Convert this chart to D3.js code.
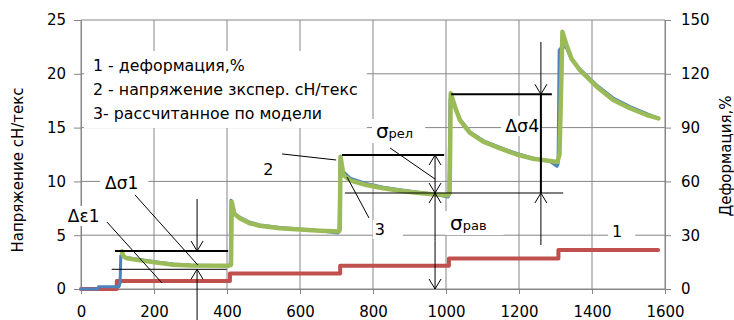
<!DOCTYPE html>
<html>
<head>
<meta charset="utf-8">
<script src="https://cdn.jsdelivr.net/npm/d3@7"></script>
<style>
  body { margin: 0; background: #fff; }
  text { font-family: "DejaVu Sans", sans-serif; fill: #000; }
</style>
</head>
<body>
<svg id="chart" width="734" height="320"></svg>
<script>
// ---- data (time, s) ----
var xTicks = [0, 200, 400, 600, 800, 1000, 1200, 1400, 1600];
var yLeftTicks = [0, 5, 10, 15, 20, 25];
var yRightTicks = [0, 30, 60, 90, 120, 150];

// 1 - deformation, % (right axis), step curve
var deformation = [[0, 0], [98, 4.4], [408, 8.6], [710, 13], [1008, 17], [1308, 21.8], [1581, 21.8]];

// 2 - experimental stress, cN/tex
var experimental = [[0, 0], [46, 0], [48, 0.2], [104, 0.2], [107, 0.5], [109, 3.1], [118, 2.95], [162, 2.75],
  [207, 2.52], [253, 2.32], [299, 2.22], [405, 2.15], [409, 2.3], [411, 8.25], [418, 7.1], [436, 6.65],
  [463, 6.2], [490, 5.95], [545, 5.72], [600, 5.58], [655, 5.42], [703, 5.2], [707, 5.3], [710, 11.9],
  [716, 11.0], [737, 10.3], [782, 9.8], [828, 9.45], [874, 9.22], [919, 9.02], [970, 8.8], [1006, 8.55],
  [1008, 8.7], [1011, 17.6], [1025, 16.9], [1038, 15.8], [1066, 14.6], [1102, 13.8], [1148, 13.15],
  [1194, 12.6], [1239, 12.15], [1285, 11.85], [1304, 11.4], [1307, 11.6], [1310, 22.2], [1320, 22.6],
  [1330, 22.4], [1344, 21.3], [1367, 20.45], [1413, 18.95], [1458, 17.75], [1504, 16.95], [1550, 16.3],
  [1582, 15.85]];

// 3 - model stress, cN/tex
var model = [[112, 3.5], [116, 3.05], [126, 2.85], [162, 2.66], [207, 2.45], [253, 2.26], [299, 2.19],
  [405, 2.17], [411, 2.25], [413, 8.1], [420, 7.0], [436, 6.55], [463, 6.1], [490, 5.88], [545, 5.64],
  [600, 5.52], [655, 5.42], [706, 5.35], [709, 5.5], [711, 12.3], [719, 10.6], [737, 10.1], [782, 9.66],
  [828, 9.36], [874, 9.14], [919, 8.95], [970, 8.78], [1005, 8.72], [1010, 8.9], [1013, 18.2], [1025, 16.9],
  [1038, 15.7], [1066, 14.5], [1102, 13.7], [1148, 13.07], [1194, 12.5], [1239, 12.1], [1285, 11.9],
  [1305, 11.8], [1311, 12.5], [1319, 23.9], [1330, 22.7], [1344, 21.4], [1367, 20.35], [1413, 18.8],
  [1458, 17.57], [1504, 16.8], [1550, 16.17], [1582, 15.85]];

var legendLines = ["1 - деформация,%", "2 - напряжение зкспер. сН/текс", "3- рассчитанное по модели"];

// annotation geometry, in axis units (time, cN/tex)
var hLines = [  // [y, x1, x2, width]
  [3.53, 93, 403, 2], [1.83, 84, 399, 1],
  [12.45, 715, 995, 2], [8.92, 723, 1321, 1.2],
  [18.1, 1014, 1290, 2]];
var arrows = [  // [x, from, to]  head at "to"
  [318, 8.36, 3.53], [318, -2.9, 1.83],
  [970, 10.7, 12.45], [970, 10.7, 8.92], [970, 4.5, 8.92], [970, 4.5, 0],
  [1260, 22.96, 18.1], [1260, 4.09, 8.92]];
var thickSegs = [[1260, 18.1, 8.92]];
var leaders = [
  [148, 8.74, 320, 2.23], [71, 6.23, 222, 0.56],
  [847, 13.1, 970, 10.22], [551, 12.55, 699, 11.99], [729, 10.4, 789, 6.6]];
var labels = [  // [parts, x, y, pad l,t,r,b]
  [[["Δσ1", 17]], 66, 9.29, [5, 0, 10, 0]],
  [[["Δε1", 17]], -36, 6.23, [3, 0, 3, 0]],
  [[["2", 16]], 499, 10.6, [3, 0, 18, 0]],
  [[["3", 16]], 805, 5.02, [2, 0, 18, 0]],
  [[["1", 16]], 1455, 4.83, [4, 0, 13, 0]],
  [[["σ", 20], ["рел", 13]], 808, 14.03, [4, 0, 12, 0]],
  [[["σ", 20], ["рав", 13]], 1011, 5.48, [5, 0, 17, 0]],
  [[["Δσ4", 17.5]], 1162, 14.6, [4, 0, 2, 0]]];

// ---- layout ----
var W = 734, H = 320;
var margin = {top: 20, right: 69, bottom: 31, left: 81};

var svg = d3.select("#chart");
var x = d3.scaleLinear().domain([0, 1600]).range([margin.left, W - margin.right]);
var yL = d3.scaleLinear().domain([0, 25]).range([H - margin.bottom, margin.top]);
var yR = d3.scaleLinear().domain([0, 150]).range([H - margin.bottom, margin.top]);

var GRID = "#868686";

// grid
var grid = svg.append("g").attr("stroke", GRID).attr("stroke-width", 1);
grid.selectAll(".gv").data(xTicks).join("line")
    .attr("x1", function (d) { return x(d); }).attr("x2", function (d) { return x(d); })
    .attr("y1", yL(0)).attr("y2", yL(25));
grid.selectAll(".gh").data(yLeftTicks).join("line")
    .attr("x1", x(0)).attr("x2", x(1600))
    .attr("y1", function (d) { return yL(d); }).attr("y2", function (d) { return yL(d); });

// axes
function styleAxis(g) {
    g.select(".domain").attr("stroke", GRID);
    g.selectAll(".tick line").attr("stroke", GRID);
    g.selectAll(".tick text").style("font-size", "15px").attr("fill", "#000");
}
svg.append("g").attr("transform", "translate(" + margin.left + ",0)")
    .call(d3.axisLeft(yL).tickValues(yLeftTicks).tickSize(7).tickPadding(8).tickSizeOuter(0))
    .call(styleAxis);
svg.append("g").attr("transform", "translate(" + (W - margin.right) + ",0)")
    .call(d3.axisRight(yR).tickValues(yRightTicks).tickSize(6).tickPadding(10).tickSizeOuter(0))
    .call(styleAxis);
svg.append("g").attr("transform", "translate(0," + (H - margin.bottom) + ")")
    .call(d3.axisBottom(x).tickValues(xTicks).tickFormat(d3.format("d"))
        .tickSize(5).tickPadding(12).tickSizeOuter(0))
    .call(styleAxis);

svg.append("text")
    .attr("transform", "translate(23,170) rotate(-90)")
    .attr("text-anchor", "middle").style("font-size", "15px")
    .text("Напряжение сН/текс");
svg.append("text")
    .attr("transform", "translate(731,156) rotate(-90)")
    .attr("text-anchor", "middle").style("font-size", "15px")
    .text("Деформация,%");

var boxes = svg.append("g");
var series = svg.append("g").attr("fill", "none").attr("stroke-linejoin", "round").attr("stroke-linecap", "round");
var anno = svg.append("g").attr("stroke", "#000").attr("fill", "none");
var texts = svg.append("g");

// legend box
var leg = texts.append("g");
legendLines.forEach(function (s, i) {
    leg.append("text").attr("x", x(33)).attr("y", yL(20.26 - i * 2.23))
        .style("font-size", "15.8px").text(s);
});
var lb = leg.node().getBBox();
boxes.append("rect").attr("x", lb.x - 9).attr("y", lb.y - 5)
    .attr("width", lb.width + 18).attr("height", lb.height + 10).attr("fill", "#fff");

// labels with white boxes
labels.forEach(function (l) {
    var t = texts.append("text").attr("x", x(l[1])).attr("y", yL(l[2]));
    l[0].forEach(function (p) {
        t.append("tspan").style("font-size", p[1] + "px").text(p[0]);
    });
    var b = t.node().getBBox(), pad = l[3];
    boxes.append("rect").attr("x", b.x - pad[0]).attr("y", b.y - pad[1])
        .attr("width", b.width + pad[0] + pad[2]).attr("height", b.height + pad[1] + pad[3])
        .attr("fill", "#fff");
});

// series
series.append("path").datum(deformation)
    .attr("stroke", "#C0504D").attr("stroke-width", 4)
    .attr("d", d3.line().curve(d3.curveStepAfter)
        .x(function (d) { return x(d[0]); }).y(function (d) { return yR(d[1]); }));
var stressLine = d3.line().x(function (d) { return x(d[0]); }).y(function (d) { return yL(d[1]); });
series.append("path").datum(experimental)
    .attr("stroke", "#4F81BD").attr("stroke-width", 3).attr("d", stressLine);
series.append("path").datum(model)
    .attr("stroke", "#9BBB59").attr("stroke-width", 4.5).attr("d", stressLine);

// annotations
hLines.forEach(function (h) {
    anno.append("line").attr("x1", x(h[1])).attr("x2", x(h[2]))
        .attr("y1", yL(h[0])).attr("y2", yL(h[0])).attr("stroke-width", h[3]);
});
thickSegs.forEach(function (s) {
    anno.append("line").attr("x1", x(s[0])).attr("x2", x(s[0]))
        .attr("y1", yL(s[1])).attr("y2", yL(s[2])).attr("stroke-width", 2);
});
arrows.forEach(function (a) {
    var X = x(a[0]), Y0 = yL(a[1]), Y1 = yL(a[2]);
    var dir = Y1 > Y0 ? 1 : -1;
    anno.append("line").attr("x1", X).attr("x2", X).attr("y1", Y0).attr("y2", Y1).attr("stroke-width", 1);
    anno.append("path").attr("stroke-width", 1)
        .attr("d", "M" + (X - 6) + "," + (Y1 - dir * 10) + "L" + X + "," + Y1 + "L" + (X + 6) + "," + (Y1 - dir * 10));
});
leaders.forEach(function (l) {
    anno.append("line").attr("x1", x(l[0])).attr("y1", yL(l[1]))
        .attr("x2", x(l[2])).attr("y2", yL(l[3])).attr("stroke-width", 1);
});
</script>
</body>
</html>
